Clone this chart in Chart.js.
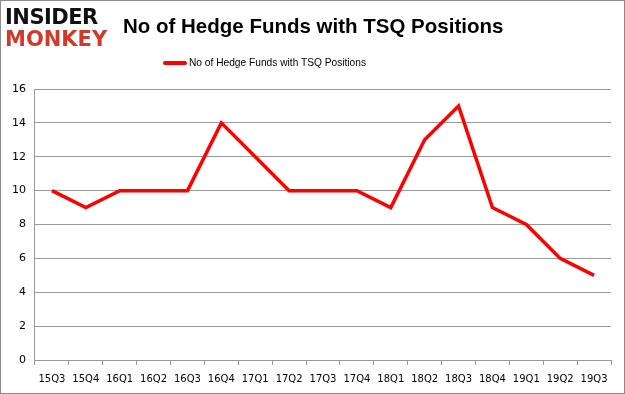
<!DOCTYPE html>
<html>
<head>
<meta charset="utf-8">
<script src="https://cdn.jsdelivr.net/npm/chart.js@4"></script>
<style>
  html, body { margin: 0; padding: 0; background: #fff; }
  #wrap { position: relative; width: 625px; height: 394px; box-sizing: border-box; border: 1px solid #8c8c8c; }
  #logo { position: absolute; left: 4px; top: 5px; font-family: "DejaVu Sans", sans-serif; font-weight: bold; line-height: 22px; }
  #logo .a { color: #111; font-size: 21px; letter-spacing: -0.5px; }
  #logo .b { color: #d0392b; font-size: 21px; letter-spacing: 0px; }
  #title { position: absolute; left: 122px; top: 13px; font-family: "Liberation Sans", sans-serif; font-weight: bold; font-size: 20.5px; color: #000; white-space: nowrap; }
  #legend { position: absolute; left: 162px; top: 55px; font-family: "Liberation Sans", sans-serif; font-size: 10.2px; color: #000; white-space: nowrap; line-height: 14px; }
  #legend .swatch { display: inline-block; width: 24px; height: 4px; background: #ff0000; vertical-align: middle; margin-right: 2px; border-radius: 2px; }
  canvas { position: absolute; left: 0; top: 0; }
</style>
</head>
<body>
<div id="wrap">
  <canvas id="chart" width="623" height="392"></canvas>
  <div id="logo"><div class="a">INSIDER</div><div class="b">MONKEY</div></div>
  <div id="title">No of Hedge Funds with TSQ Positions</div>
  <div id="legend"><span class="swatch"></span>No of Hedge Funds with TSQ Positions</div>
</div>
<script>
const quarters = ["15Q3", "15Q4", "16Q1", "16Q2", "16Q3", "16Q4", "17Q1", "17Q2", "17Q3", "17Q4", "18Q1", "18Q2", "18Q3", "18Q4", "19Q1", "19Q2", "19Q3"];
const hedgeFunds = [10, 9, 10, 10, 10, 14, 12, 10, 10, 10, 9, 13, 15, 9, 8, 6, 5];
const yTicks = [0, 2, 4, 6, 8, 10, 12, 14, 16];

const ctx = document.getElementById("chart").getContext("2d");
new Chart(ctx, {
    type: "line",
    data: {
        labels: quarters,
        datasets: [{
            label: "No of Hedge Funds with TSQ Positions",
            data: hedgeFunds,
            borderColor: "#ff0000",
            backgroundColor: "#ff0000",
            borderWidth: 3.5,
            pointRadius: 0,
            tension: 0,
            fill: false
        }]
    },
    options: {
        responsive: false,
        animation: false,
        layout: { padding: { left: 2, right: 13, top: 88, bottom: 0 } },
        plugins: {
            title: { display: false },
            legend: { display: false },
            tooltip: { enabled: false }
        },
        scales: {
            x: {
                offset: true,
                grid: { display: true, drawOnChartArea: false, offset: true, color: "#999", tickLength: 5 },
                border: { color: "#999" },
                ticks: { color: "#000", font: { family: "DejaVu Sans", size: 10 }, maxRotation: 0, autoSkip: false, padding: 8 }
            },
            y: {
                min: 0,
                max: 16,
                afterBuildTicks: axis => { axis.ticks = yTicks.map(v => ({ value: v })); },
                grid: { color: "#999", tickLength: 0 },
                border: { color: "#999" },
                ticks: { color: "#000", font: { family: "DejaVu Sans", size: 11 }, padding: 9 }
            }
        }
    }
});
</script>
</body>
</html>
